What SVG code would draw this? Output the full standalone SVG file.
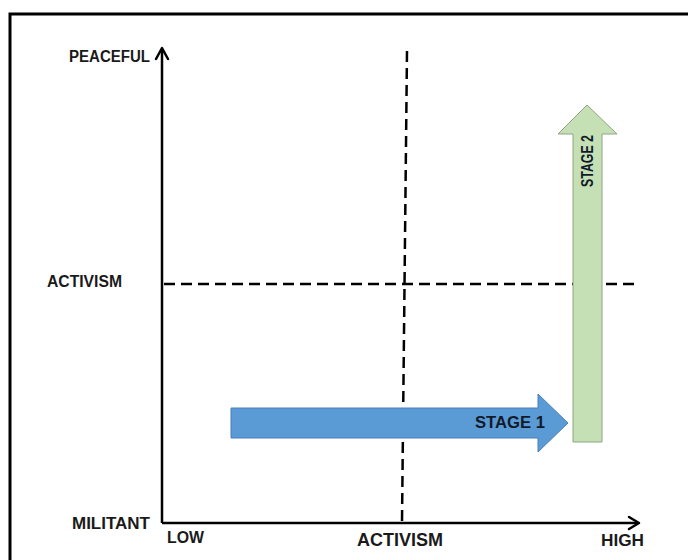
<svg xmlns="http://www.w3.org/2000/svg" width="688" height="560" viewBox="0 0 688 560">
<style>
.lbl{font-family:"Liberation Sans",Arial,sans-serif;font-weight:bold;fill:#1a1a1a}
.axis{stroke:#000;stroke-width:2.5;fill:none}
.dash{stroke:#000;stroke-width:2.5;fill:none;stroke-dasharray:11 6}
.head{stroke:#000;stroke-width:2.5;fill:none;stroke-linecap:round;stroke-linejoin:round}
</style>
<rect width="688" height="560" fill="#fff"/>
<path d="M10 562 L10 14 L690 14" stroke="#000" stroke-width="3" fill="none"/>
<g id="connectors">
<line class="axis" x1="162" y1="49" x2="162" y2="523"/>
<path class="head" d="M156 59 L162 48 L168 59"/>
<line class="axis" x1="162" y1="523" x2="638" y2="523"/>
<path class="head" d="M629 517 L639 523 L629 529"/>
<line class="dash" x1="164" y1="284" x2="636" y2="284"/>
<line class="dash" x1="407" y1="51" x2="402" y2="522"/>
</g>
<g id="stage1">
<path d="M231 408 L538 408 L538 394 L568 423 L538 452 L538 438 L231 438 Z" fill="#5B9BD5" stroke="#4A7EBB" stroke-width="1"/>
<text class="lbl" x="475" y="428" font-size="17" textLength="70" lengthAdjust="spacingAndGlyphs" style="fill:#111a2b">STAGE 1</text>
</g>
<g id="stage2">
<path d="M573 442 L573 134 L558 134 L587 105 L617 134 L602 134 L602 442 Z" fill="#C5E0B4" stroke="#8FA582" stroke-width="1"/>
<text class="lbl" transform="translate(593 161) rotate(-90)" x="0" y="0" text-anchor="middle" font-size="16" textLength="52" lengthAdjust="spacingAndGlyphs" style="fill:#111a2b">STAGE 2</text>
</g>
<g id="labels">
<text class="lbl" x="69" y="62" font-size="16" textLength="81" lengthAdjust="spacingAndGlyphs">PEACEFUL</text>
<text class="lbl" x="47" y="287" font-size="16" textLength="75" lengthAdjust="spacingAndGlyphs">ACTIVISM</text>
<text class="lbl" x="72" y="529" font-size="16" textLength="78" lengthAdjust="spacingAndGlyphs">MILITANT</text>
<text class="lbl" x="167" y="543" font-size="16" textLength="37" lengthAdjust="spacingAndGlyphs">LOW</text>
<text class="lbl" x="357" y="546" font-size="18" textLength="86" lengthAdjust="spacingAndGlyphs">ACTIVISM</text>
<text class="lbl" x="601" y="546" font-size="16" textLength="43" lengthAdjust="spacingAndGlyphs">HIGH</text>
</g>
</svg>
